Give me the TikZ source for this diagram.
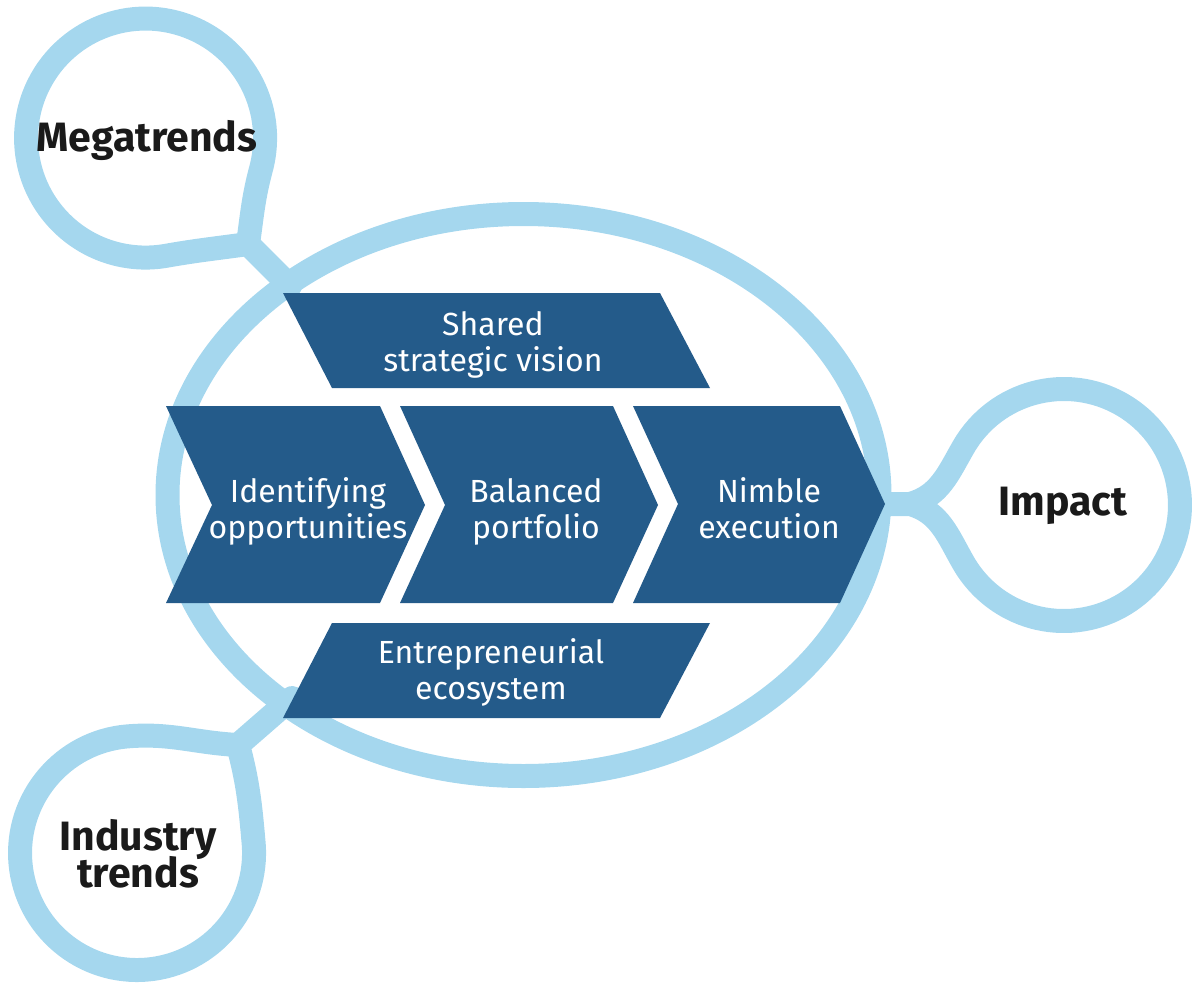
\documentclass[tikz,border=0pt]{standalone}
\usepackage{fontspec}
\setmainfont{Fira Sans}
\definecolor{ringblue}{HTML}{A5D7EE}
\definecolor{boxblue}{HTML}{245B8A}
\definecolor{ink}{HTML}{1A1A1A}
\tikzset{
  ring/.style={draw=ringblue, line width=12pt, line join=round, line cap=round},
  boxshape/.style={fill=boxblue},
  wlbl/.style={text=white, inner sep=0pt, anchor=base, font=\fontsize{16}{18.25}\selectfont},
  blbl/.style={text=ink, inner sep=0pt, anchor=base, font=\fontsize{20.5}{18.6}\selectfont\bfseries},
}
\newcommand{\twoline}[2]{\vtop{\lineskiplimit=-30pt\halign{\hfil##\hfil\cr #1\cr #2\cr}}}
\begin{document}
\begin{tikzpicture}[x=0.5pt,y=-0.5pt]
\useasboundingbox (0,0) rectangle (1200,991);
% junction and end coordinates
\coordinate (mJ) at (248,244);
\coordinate (mE) at (290,286);
\coordinate (iJ) at (910,504);
\coordinate (iE) at (872,504);
\coordinate (nJ) at (238,745);
\coordinate (nE) at (292,698);
% central ellipse
\draw[ring] (523.5,495) ellipse[x radius=356, y radius=281];
% Megatrends ring
\draw[ring] (mE) -- (mJ) to[out=82,in=-105] (261,169)
  arc[start angle=15, end angle=-280, radius=119.5]
  to[out=10,in=-172] (mJ);
% Impact ring
\draw[ring] (iE) -- (iJ) to[out=15,in=-120] (963.5,447)
  arc[start angle=-150, end angle=150, radius=116]
  to[out=120,in=-15] (iJ);
% Industry trends ring
\draw[ring] (nE) -- (nJ) to[out=-75,in=95] (253.6,842.8)
  arc[start angle=-5, end angle=265, radius=117]
  to[out=5,in=177] (nJ);
% dark blue shapes
\fill[boxshape] (283,293) -- (660,293) -- (710,388) -- (332,388) -- cycle;
\fill[boxshape] (166,406) -- (380,406) -- (425,505) -- (380,603) -- (166,603) -- (212,505) -- cycle;
\fill[boxshape] (400,406) -- (613,406) -- (658,505) -- (613,603) -- (400,603) -- (445,505) -- cycle;
\fill[boxshape] (633,406) -- (840,406) -- (885,504) -- (840,603) -- (633,603) -- (678,504) -- cycle;
\fill[boxshape] (332,623) -- (710,623) -- (660,718) -- (283,718) -- cycle;
% labels
\node[wlbl] (shared) at (493,335) {\twoline{Shared}{strategic vision}};
\node[wlbl] (ident) at (308,502) {\twoline{Identifying}{opportunities}};
\node[wlbl] (bal) at (536,502) {\twoline{Balanced}{portfolio}};
\node[wlbl] (nimble) at (769,502) {\twoline{Nimble}{execution}};
\node[wlbl] (entre) at (491,663) {\twoline{Entrepreneurial}{ecosystem}};
\node[blbl] (mega) at (147,151) {Megatrends};
\node[blbl] (impact) at (1063,515) {Impact};
\node[blbl] (industry) at (138,850) {\twoline{Industry}{trends}};
\end{tikzpicture}
\end{document}
